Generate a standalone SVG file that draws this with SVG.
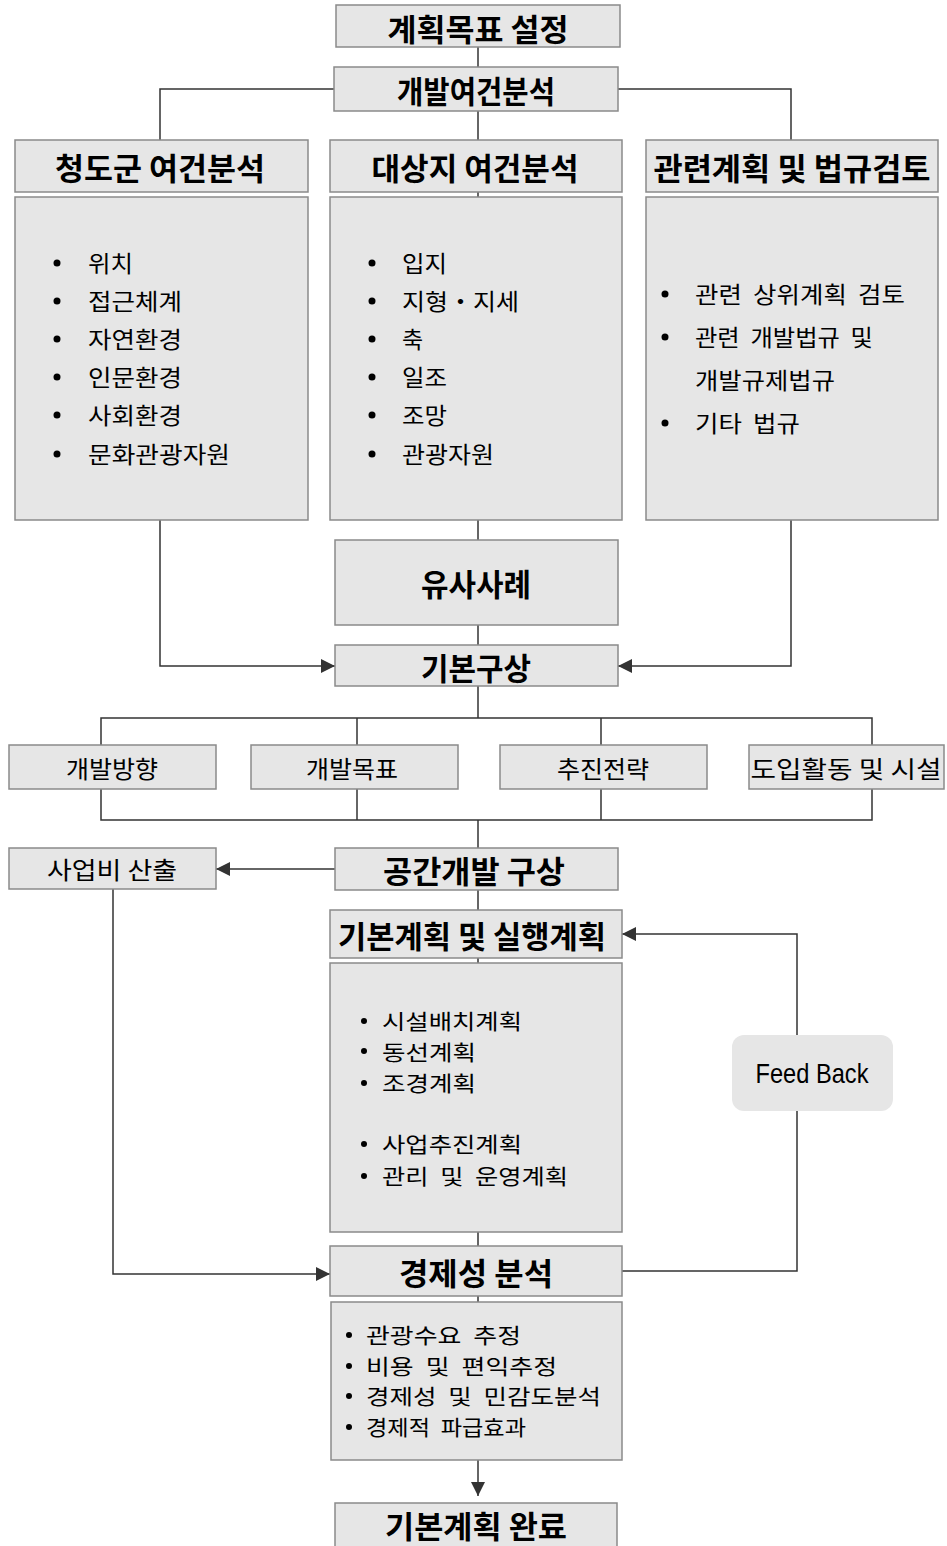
<svg xmlns="http://www.w3.org/2000/svg" width="947" height="1546" viewBox="0 0 947 1546">
<style>
.box{fill:#e6e6e6;stroke:#8a8a8a;stroke-width:1.5}
.fb{fill:#e6e6e6;stroke:none}
.ln{fill:none;stroke:#333;stroke-width:1.5}
.h{font-family:"Noto Sans CJK KR","Noto Sans",sans-serif;font-weight:700;font-size:31px;fill:#000;text-anchor:middle;dominant-baseline:central}
.m{font-family:"Noto Sans CJK KR","Noto Sans",sans-serif;font-weight:400;font-size:24px;fill:#000;text-anchor:middle;dominant-baseline:central}
.b{font-family:"Noto Sans CJK KR","Noto Sans",sans-serif;font-weight:400;font-size:23px;word-spacing:5px;fill:#000;dominant-baseline:central}
.s{font-size:21px}
.d{fill:#000}
.e{font-family:"Liberation Sans",Arial,sans-serif;font-size:28px;fill:#000;text-anchor:middle;dominant-baseline:central}
</style>
<defs>
<marker id="ar2" viewBox="0 0 12 12" refX="12" refY="6" markerWidth="14" markerHeight="14" markerUnits="userSpaceOnUse" orient="auto">
<path d="M0,0 L12,6 L0,12 z" fill="#333"/>
</marker>
</defs>

<g id="connectors">
<path class="ln" d="M478,47 V67"/>
<path class="ln" d="M334,89 H160 V140"/>
<path class="ln" d="M618,89 H791 V140"/>
<path class="ln" d="M478,111 V140"/>
<path class="ln" d="M478,192 V197"/>
<path class="ln" d="M478,520 V540"/>
<path class="ln" d="M478,625 V645"/>
<path class="ln" d="M160,520 V666 H335" marker-end="url(#ar2)"/>
<path class="ln" d="M791,520 V666 H618" marker-end="url(#ar2)"/>
<path class="ln" d="M478,686 V718"/>
<path class="ln" d="M101,745 V718 H872 V745"/>
<path class="ln" d="M357,718 V745"/>
<path class="ln" d="M601,718 V745"/>
<path class="ln" d="M101,789 V820 H872 V789"/>
<path class="ln" d="M357,789 V820"/>
<path class="ln" d="M601,789 V820"/>
<path class="ln" d="M478,820 V848"/>
<path class="ln" d="M335,869 H216" marker-end="url(#ar2)"/>
<path class="ln" d="M478,890 V910"/>
<path class="ln" d="M478,958 V963"/>
<path class="ln" d="M478,1232 V1246"/>
<path class="ln" d="M113,889 V1274 H330" marker-end="url(#ar2)"/>
<path class="ln" d="M622,1271 H797 V934 H622" marker-end="url(#ar2)"/>
<path class="ln" d="M478,1296 V1302"/>
<path class="ln" d="M478,1460 V1496" marker-end="url(#ar2)"/>
</g>

<g id="n-goal">
<rect class="box" x="336" y="5" width="284" height="42"/>
<text class="h" x="478" y="27" textLength="181" lengthAdjust="spacingAndGlyphs">계획목표 설정</text>
</g>
<g id="n-analysis">
<rect class="box" x="334" y="67" width="284" height="44"/>
<text class="h" x="476" y="89" textLength="158" lengthAdjust="spacingAndGlyphs">개발여건분석</text>
</g>
<g id="n-cheongdo">
<rect class="box" x="15" y="140" width="293" height="52"/>
<text class="h" x="160" y="166" textLength="210" lengthAdjust="spacingAndGlyphs">청도군 여건분석</text>
</g>
<g id="n-site">
<rect class="box" x="330" y="140" width="292" height="52"/>
<text class="h" x="475" y="166" textLength="207" lengthAdjust="spacingAndGlyphs">대상지 여건분석</text>
</g>
<g id="n-law">
<rect class="box" x="646" y="140" width="292" height="52"/>
<text class="h" x="792" y="166" textLength="277" lengthAdjust="spacingAndGlyphs">관련계획 및 법규검토</text>
</g>
<g id="n-cheongdo-list">
<rect class="box" x="15" y="197" width="293" height="323"/>
<circle class="d" cx="57" cy="263" r="3.5"/><text class="b" x="88" y="262" textLength="45" lengthAdjust="spacingAndGlyphs">위치</text>
<circle class="d" cx="57" cy="301" r="3.5"/><text class="b" x="88" y="300" textLength="94" lengthAdjust="spacingAndGlyphs">접근체계</text>
<circle class="d" cx="57" cy="339" r="3.5"/><text class="b" x="88" y="338" textLength="94" lengthAdjust="spacingAndGlyphs">자연환경</text>
<circle class="d" cx="57" cy="377" r="3.5"/><text class="b" x="88" y="376" textLength="94" lengthAdjust="spacingAndGlyphs">인문환경</text>
<circle class="d" cx="57" cy="415" r="3.5"/><text class="b" x="88" y="414" textLength="94" lengthAdjust="spacingAndGlyphs">사회환경</text>
<circle class="d" cx="57" cy="454" r="3.5"/><text class="b" x="88" y="453" textLength="142" lengthAdjust="spacingAndGlyphs">문화관광자원</text>
</g>
<g id="n-site-list">
<rect class="box" x="330" y="197" width="292" height="323"/>
<circle class="d" cx="372" cy="263" r="3.5"/><text class="b" x="402" y="262" textLength="45" lengthAdjust="spacingAndGlyphs">입지</text>
<circle class="d" cx="372" cy="301" r="3.5"/><text class="b" x="402" y="300" textLength="117" lengthAdjust="spacingAndGlyphs">지형・지세</text>
<circle class="d" cx="372" cy="339" r="3.5"/><text class="b" x="402" y="338">축</text>
<circle class="d" cx="372" cy="377" r="3.5"/><text class="b" x="402" y="376" textLength="45" lengthAdjust="spacingAndGlyphs">일조</text>
<circle class="d" cx="372" cy="415" r="3.5"/><text class="b" x="402" y="414" textLength="45" lengthAdjust="spacingAndGlyphs">조망</text>
<circle class="d" cx="372" cy="454" r="3.5"/><text class="b" x="402" y="453" textLength="92" lengthAdjust="spacingAndGlyphs">관광자원</text>
</g>
<g id="n-law-list">
<rect class="box" x="646" y="197" width="292" height="323"/>
<circle class="d" cx="665" cy="294" r="3.5"/><text class="b" x="695" y="293" textLength="210" lengthAdjust="spacingAndGlyphs">관련 상위계획 검토</text>
<circle class="d" cx="665" cy="337" r="3.5"/><text class="b" x="695" y="336" textLength="178" lengthAdjust="spacingAndGlyphs">관련 개발법규 및</text>
<text class="b" x="695" y="379" textLength="140" lengthAdjust="spacingAndGlyphs">개발규제법규</text>
<circle class="d" cx="665" cy="423" r="3.5"/><text class="b" x="695" y="422" textLength="105" lengthAdjust="spacingAndGlyphs">기타 법규</text>
</g>
<g id="n-case">
<rect class="box" x="335" y="540" width="283" height="85"/>
<text class="h" x="476" y="582" textLength="110" lengthAdjust="spacingAndGlyphs">유사사례</text>
</g>
<g id="n-concept">
<rect class="box" x="335" y="645" width="283" height="41"/>
<text class="h" x="476" y="666" textLength="110" lengthAdjust="spacingAndGlyphs">기본구상</text>
</g>
<g id="n-dir">
<rect class="box" x="9" y="745" width="207" height="44"/>
<text class="m" x="112" y="767" textLength="92" lengthAdjust="spacingAndGlyphs">개발방향</text>
</g>
<g id="n-target">
<rect class="box" x="251" y="745" width="207" height="44"/>
<text class="m" x="352" y="767" textLength="92" lengthAdjust="spacingAndGlyphs">개발목표</text>
</g>
<g id="n-strategy">
<rect class="box" x="500" y="745" width="207" height="44"/>
<text class="m" x="603" y="767" textLength="92" lengthAdjust="spacingAndGlyphs">추진전략</text>
</g>
<g id="n-facility">
<rect class="box" x="749" y="745" width="195" height="44"/>
<text class="m" x="846" y="767" textLength="191" lengthAdjust="spacingAndGlyphs">도입활동 및 시설</text>
</g>
<g id="n-cost">
<rect class="box" x="9" y="848" width="207" height="41"/>
<text class="m" x="112" y="868" textLength="130" lengthAdjust="spacingAndGlyphs">사업비 산출</text>
</g>
<g id="n-space">
<rect class="box" x="335" y="848" width="283" height="42"/>
<text class="h" x="474" y="869" textLength="182" lengthAdjust="spacingAndGlyphs">공간개발 구상</text>
</g>
<g id="n-plan">
<rect class="box" x="330" y="910" width="292" height="48"/>
<text class="h" x="472" y="934" textLength="268" lengthAdjust="spacingAndGlyphs">기본계획 및 실행계획</text>
</g>
<g id="n-plan-list">
<rect class="box" x="330" y="963" width="292" height="269"/>
<circle class="d" cx="364" cy="1021" r="3"/><text class="b s" x="382" y="1020" textLength="140" lengthAdjust="spacingAndGlyphs">시설배치계획</text>
<circle class="d" cx="364" cy="1051" r="3"/><text class="b s" x="382" y="1051" textLength="94" lengthAdjust="spacingAndGlyphs">동선계획</text>
<circle class="d" cx="364" cy="1083" r="3"/><text class="b s" x="382" y="1082" textLength="94" lengthAdjust="spacingAndGlyphs">조경계획</text>
<circle class="d" cx="364" cy="1144" r="3"/><text class="b s" x="382" y="1143" textLength="140" lengthAdjust="spacingAndGlyphs">사업추진계획</text>
<circle class="d" cx="364" cy="1176" r="3"/><text class="b s" x="382" y="1175" textLength="186" lengthAdjust="spacingAndGlyphs">관리 및 운영계획</text>
</g>
<g id="n-feedback">
<rect class="fb" x="732" y="1035" width="161" height="76" rx="12" ry="12"/>
<text class="e" x="812" y="1073" textLength="113" lengthAdjust="spacingAndGlyphs">Feed Back</text>
</g>
<g id="n-econ">
<rect class="box" x="330" y="1246" width="292" height="50"/>
<text class="h" x="476" y="1271" textLength="154" lengthAdjust="spacingAndGlyphs">경제성 분석</text>
</g>
<g id="n-econ-list">
<rect class="box" x="331" y="1302" width="291" height="158"/>
<circle class="d" cx="349" cy="1335" r="3"/><text class="b s" x="366" y="1334" textLength="155" lengthAdjust="spacingAndGlyphs">관광수요 추정</text>
<circle class="d" cx="349" cy="1366" r="3"/><text class="b s" x="366" y="1365" textLength="191" lengthAdjust="spacingAndGlyphs">비용 및 편익추정</text>
<circle class="d" cx="349" cy="1396" r="3"/><text class="b s" x="366" y="1395" textLength="235" lengthAdjust="spacingAndGlyphs">경제성 및 민감도분석</text>
<circle class="d" cx="349" cy="1427" r="3"/><text class="b s" x="366" y="1426" textLength="160" lengthAdjust="spacingAndGlyphs">경제적 파급효과</text>
</g>
<g id="n-done">
<rect class="box" x="335" y="1503" width="282" height="48"/>
<text class="h" x="476" y="1524" textLength="182" lengthAdjust="spacingAndGlyphs">기본계획 완료</text>
</g>
</svg>
